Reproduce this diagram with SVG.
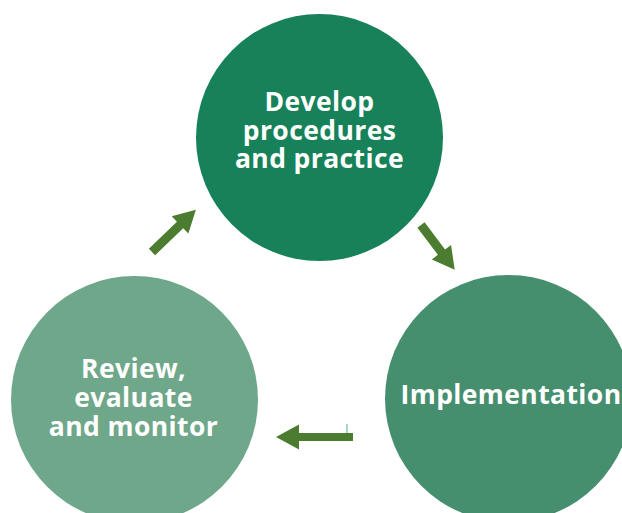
<svg xmlns="http://www.w3.org/2000/svg" width="622" height="513" viewBox="0 0 622 513">
<style>
.lbl{font-family:"Open Sans","DejaVu Sans",sans-serif;font-weight:bold;font-size:26.5px;letter-spacing:0.4px;fill:#ffffff;text-anchor:middle}
.arrow{fill:#4b7c2f}
</style>
<rect width="622" height="513" fill="#ffffff"/>
<g id="node-develop">
<circle cx="319.5" cy="137.5" r="123.5" fill="#178259"/>
<text class="lbl" x="319.5" y="110.5">Develop</text>
<text class="lbl" x="319.5" y="139.5">procedures</text>
<text class="lbl" x="319.5" y="168">and practice</text>
</g>
<g id="node-implementation">
<circle cx="508.5" cy="398.5" r="123.5" fill="#468f6e"/>
<text class="lbl" x="511" y="404">Implementation</text>
</g>
<g id="node-review">
<circle cx="134.5" cy="399.5" r="123.5" fill="#6fa78a"/>
<text class="lbl" x="133.5" y="378">Review,</text>
<text class="lbl" x="133.5" y="407">evaluate</text>
<text class="lbl" x="133.5" y="436">and monitor</text>
</g>
<g id="connectors">
<polygon class="arrow" transform="translate(152,252) rotate(-44)" points="0,-4.5 39,-4.5 39,-12 61,0 39,12 39,4.5 0,4.5"/>
<polygon class="arrow" transform="translate(421,225) rotate(53)" points="0,-4.5 34,-4.5 34,-12 56,0 34,12 34,4.5 0,4.5"/>
<polygon class="arrow" transform="translate(353,437) rotate(180)" points="0,-4 54,-4 54,-12.5 77,0 54,12.5 54,4 0,4"/>
<line x1="347" y1="424" x2="347" y2="433" stroke="#5aa88a" stroke-width="1"/>
</g>
</svg>
